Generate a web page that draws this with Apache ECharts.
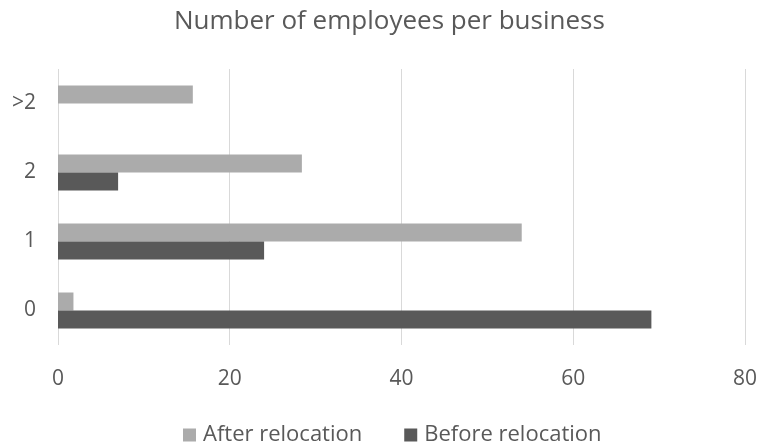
<!DOCTYPE html>
<html><head><meta charset="utf-8">
<script src="https://cdn.jsdelivr.net/npm/echarts@6/dist/echarts.min.js"></script>
<style>html,body{margin:0;padding:0;background:#fff}#c{width:760px;height:448px}</style>
</head><body><div id="c"></div>
<script>
const categories = ['0', '1', '2', '>2'];
const afterRelocation = [1.8, 54, 28.4, 15.7];
const beforeRelocation = [69.1, 24, 7, 0];
const xTicks = { min: 0, max: 80, interval: 20 };

const font = 'Open Sans';
const chart = echarts.init(document.getElementById('c'));
chart.setOption({
  animation: false,
  title: { text: 'Number of employees per business', left: 169, top: 4,
    textStyle: { fontFamily: font, fontSize: 26, fontWeight: 'normal', color: '#595959' } },
  legend: { top: 419, left: 178, icon: 'rect', itemWidth: 13, itemHeight: 13, itemGap: 42,
    data: ['After relocation', 'Before relocation'],
    textStyle: { fontFamily: font, fontSize: 22, color: '#595959', padding: [0, 0, 0, 2] } },
  grid: { left: 58, right: 15, top: 69, bottom: 103 },
  xAxis: { type: 'value', min: xTicks.min, max: xTicks.max, interval: xTicks.interval,
    axisLine: { show: false }, axisTick: { show: false },
    axisLabel: { margin: 24, fontFamily: font, fontSize: 21, color: '#595959' },
    splitLine: { lineStyle: { color: '#d9d9d9', width: 1 } } },
  yAxis: { type: 'category', data: categories,
    axisLine: { show: false }, axisTick: { show: false },
    axisLabel: { margin: 22, fontFamily: font, fontSize: 21, color: '#595959' } },
  series: [
    { name: 'After relocation', type: 'bar', data: afterRelocation, barWidth: 18, barGap: '0%',
      itemStyle: { color: '#ababab' } },
    { name: 'Before relocation', type: 'bar', data: beforeRelocation, barWidth: 18, barGap: '0%',
      itemStyle: { color: '#595959' } }
  ]
});
</script></body></html>
